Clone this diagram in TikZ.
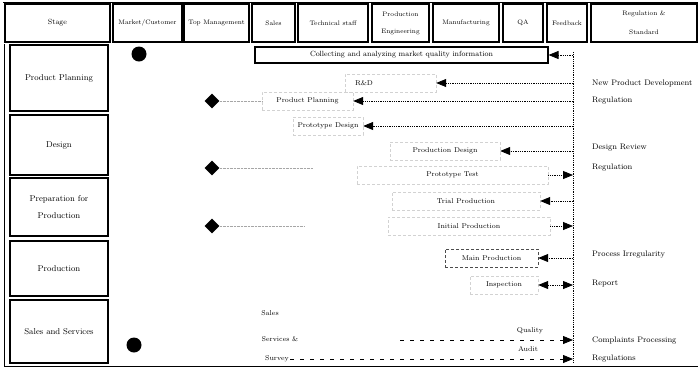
\documentclass[tikz,border=0pt]{standalone}
\usepackage{tikz}
\usetikzlibrary{arrows.meta, shapes.geometric, positioning, calc}

\tikzset{
  headbox/.style={draw, line width=1.1pt, minimum height=38pt, inner sep=1pt,
                  font=\fontsize{6.5}{8}\selectfont, align=center},
  stagebox/.style={draw, line width=1.1pt, minimum width=98pt, inner sep=1pt,
                   font=\fontsize{8.5}{10}\selectfont, align=center},
  actbox/.style={draw=gray!35, densely dashed, line width=0.4pt, minimum height=18pt,
                 inner sep=2pt, font=\fontsize{7}{8}\selectfont},
  plaintxt/.style={inner sep=1pt, font=\fontsize{7}{8}\selectfont},
  notetxt/.style={anchor=west, inner sep=0pt, font=\fontsize{8}{9}\selectfont},
  fbline/.style={densely dotted, line width=0.8pt},
  tipline/.style={-{Triangle[length=10pt,width=8pt]}, line width=0.8pt},
  milestone/.style={diamond, fill=black, inner sep=0pt, minimum size=15pt},
  endpoint/.style={circle, fill=black, inner sep=0pt, minimum size=15pt},
}

\begin{document}
\begin{tikzpicture}[x=1pt,y=-1pt]
  \useasboundingbox (0,0) rectangle (698,376);
  % outer frame
  \draw[line width=1pt] (3,2) -- (698,2);
  \draw[line width=1pt] (4,44) -- (4,366) -- (698,366);

  % header row
  \node[headbox, minimum width=105pt, font=\fontsize{7.5}{9}\selectfont] (stage) at (57.5,23) {Stage};
  \node[headbox, minimum width=69pt]  (cust)  at (147.5,23) {Market/Customer};
  \node[headbox, minimum width=65pt]  (mgmt)  at (216.5,23) {Top Management};
  \node[headbox, minimum width=43pt]  (sales) at (273.5,23) {Sales};
  \node[headbox, minimum width=70pt]  (tech)  at (333,23) {Technical staff};
  \node[headbox, minimum width=57pt]  (peng)  at (400.5,23) {Production\\[9pt]Engineering};
  \node[headbox, minimum width=66pt]  (manu)  at (466,23) {Manufacturing};
  \node[headbox, minimum width=40pt]  (qa)    at (523,23) {QA};
  \node[headbox, minimum width=40pt]  (feed)  at (567,23) {Feedback};
  \node[headbox, minimum width=106pt] (regs)  at (644,23) {Regulation \&\\[11pt]Standard};

  % stage column
  \node[stagebox, minimum height=66pt] (plan)  at (59,78)    {Product Planning};
  \node[stagebox, minimum height=60pt] (dsgn)  at (59,145)   {Design};
  \node[stagebox, minimum height=58pt] (prep)  at (59,207)   {Preparation for\\[7pt]Production};
  \node[stagebox, minimum height=55pt] (prod)  at (59,268.5) {Production};
  \node[stagebox, minimum height=63pt] (serv)  at (59,331.5) {Sales and Services};

  % start, milestones and end
  \node[endpoint]  (start) at (139,54)  {};
  \node[milestone] (ms1)   at (212,101) {};
  \node[milestone] (ms2)   at (212,168) {};
  \node[milestone] (ms3)   at (212,226) {};
  \node[endpoint]  (stop)  at (134,345) {};

  % activities
  \node[draw, line width=1.1pt, minimum width=293pt, minimum height=16pt, inner sep=1pt,
        font=\fontsize{7.5}{8}\selectfont] (collect) at (401.5,55)
        {Collecting and analyzing market quality information};
  \node[actbox, text width=71pt, inner xsep=10pt, align=left] (rd) at (390.5,83) {R\&D};
  \node[actbox, minimum width=91pt]  (pplan)  at (307.5,101) {Product Planning};
  \node[actbox, minimum width=70pt]  (pdes)   at (328,126)   {Prototype Design};
  \node[actbox, minimum width=110pt] (prodd)  at (445,151)   {Production Design};
  \node[actbox, minimum width=191pt] (ptest)  at (452.5,175) {Prototype Test};
  \node[actbox, minimum width=148pt] (trial)  at (466,201)   {Trial Production};
  \node[actbox, minimum width=162pt] (initp)  at (469,226)   {Initial Production};
  \node[actbox, draw=black!70, minimum width=93pt] (mainp) at (491.5,258) {Main Production};
  \node[actbox, minimum width=68pt]  (insp)   at (504,285)   {Inspection};
  \node[plaintxt] (sl)      at (270,313) {Sales};
  \node[plaintxt] (svc)     at (280,339) {Services \&};
  \node[plaintxt] (survey)  at (277,359) {Survey};
  \node[plaintxt] (quality) at (530,331) {Quality};
  \node[plaintxt] (audit)   at (528,349) {Audit};

  % feedback line
  \coordinate (fb) at (573,0);
  \coordinate (fbtop) at (573,52);
  \coordinate (fbbot) at (573,362);
  \coordinate (qstart) at (400,340);
  \coordinate (ms2end) at (313,168);
  \coordinate (ms3end) at (305,226);
  \draw[fbline] (fbtop) -- (fbbot);

  \draw[fbline, tipline] (fb |- collect) -- (collect.east);
  \draw[fbline, tipline] (fb |- rd)      -- (rd.east);
  \draw[fbline, tipline] (fb |- pplan)   -- (pplan.east);
  \draw[fbline, tipline] (fb |- pdes)    -- (pdes.east);
  \draw[fbline, tipline] (fb |- prodd)   -- (prodd.east);
  \draw[fbline, tipline] (ptest.east)    -- (fb |- ptest);
  \draw[fbline, tipline] (fb |- trial)   -- (trial.east);
  \draw[fbline, tipline] (initp.east)    -- (fb |- initp);
  \draw[fbline, tipline] (fb |- mainp)   -- (mainp.east);
  \draw[fbline, {Triangle[length=10pt,width=8pt]}-{Triangle[length=10pt,width=8pt]}, line width=0.8pt]
       (insp.east) -- (fb |- insp);
  \draw[tipline, dash pattern=on 4pt off 6pt] (qstart) -- (fb |- qstart);
  \draw[tipline, dash pattern=on 4pt off 6pt] (survey.east) -- (fb |- survey);

  % milestone links
  \draw[densely dotted, gray!70] (ms1) -- (pplan.west);
  \draw[densely dotted, gray!70] (ms2) -- (ms2end);
  \draw[densely dotted, gray!70] (ms3) -- (ms3end);

  % feedback column notes
  \node[notetxt] (n1) at (592,83)  {New Product Development};
  \node[notetxt] (n2) at (592,101) {Regulation};
  \node[notetxt] (n3) at (592,148) {Design Review};
  \node[notetxt] (n4) at (592,168) {Regulation};
  \node[notetxt] (n5) at (592,255) {Process Irregularity};
  \node[notetxt] (n6) at (592,284) {Report};
  \node[notetxt] (n7) at (592,340) {Complaints Processing};
  \node[notetxt] (n8) at (592,359) {Regulations};
\end{tikzpicture}
\end{document}
